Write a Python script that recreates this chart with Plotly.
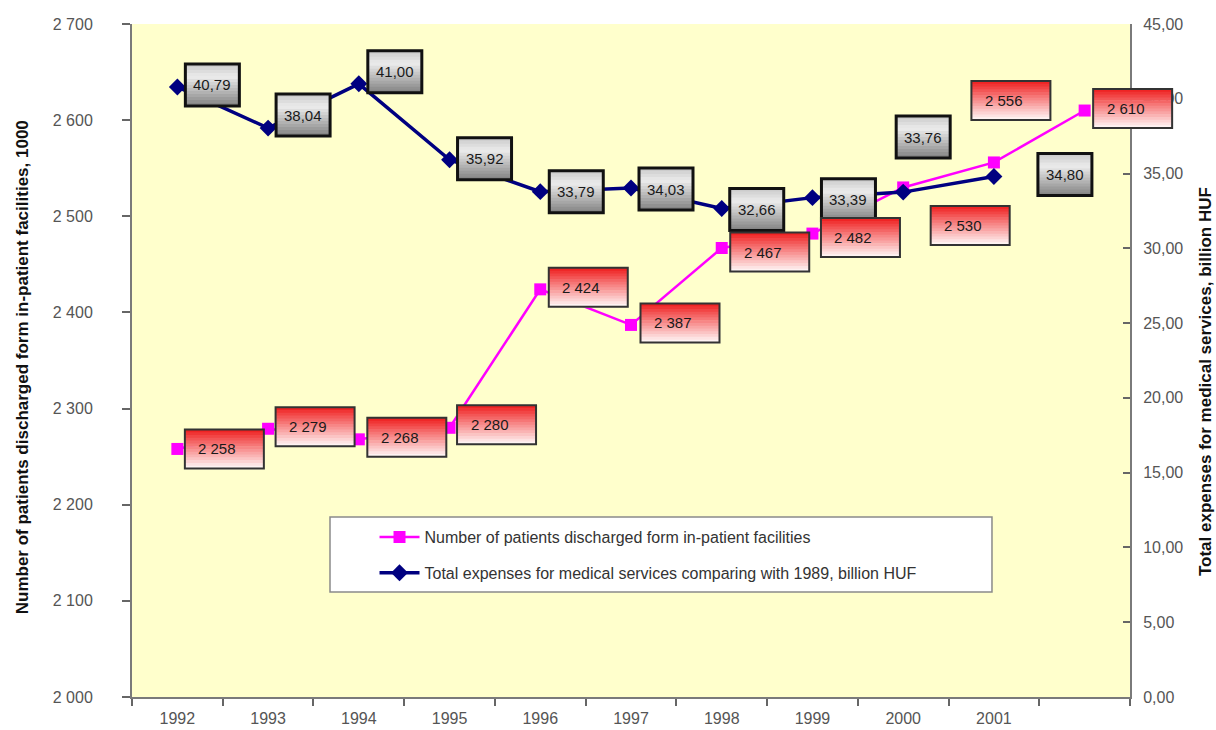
import plotly.graph_objects as go

# ---- data -------------------------------------------------------------
years = [1992, 1993, 1994, 1995, 1996, 1997, 1998, 1999, 2000, 2001, 2002]
year_ticks = [1992, 1993, 1994, 1995, 1996, 1997, 1998, 1999, 2000, 2001]
year_tick_text = ["1992", "1993", "1994", "1995", "1996", "1997", "1998",
                  "1999", "2000", "2001"]

# patients discharged from in-patient facilities, thousands
patients = [2258, 2279, 2268, 2280, 2424, 2387, 2467, 2482, 2530, 2556, 2610]
# total expenses for medical services compared with 1989, billion HUF
expenses = [40.79, 38.04, 41.00, 35.92, 33.79, 34.03, 32.66, 33.39, 33.76, 34.80]

left_ticks = [2000, 2100, 2200, 2300, 2400, 2500, 2600, 2700]
left_tick_text = ["2 000", "2 100", "2 200", "2 300", "2 400", "2 500",
                  "2 600", "2 700"]
right_ticks = [0, 5, 10, 15, 20, 25, 30, 35, 40, 45]
right_tick_text = ["0,00", "5,00", "10,00", "15,00", "20,00", "25,00",
                   "30,00", "35,00", "40,00", "45,00"]

name_patients = "Number of patients discharged form in-patient facilities"
name_expenses = "Total expenses for medical services comparing with 1989, billion HUF"

X_RANGE = [1991.5, 2002.5]

# ---- label box placement (screen px from the point: right, down) -------
patient_box_offsets = [(47, 0), (47, -2), (48, -2), (47, -3), (48, -2), (49, -2),
                       (48, 4), (48, 4), (67, 38), (17, -62), (48, -2)]
expense_box_offsets = [(35, -2), (35, -13), (36, -12), (35, -1), (36, 0), (35, 1),
                       (35, 1), (36, 2), (20, -55), (71, -2)]

FONT = "Liberation Sans, Arial, sans-serif"
PINK = "#FF00FF"
NAVY = "#000080"


def fmt_thousands(v):
    return f"{v:,}".replace(",", " ")


def fmt_decimal(v):
    return f"{v:.2f}".replace(".", ",")


def x_domain(x):
    # position along the x axis as a fraction of the plot width, so label
    # boxes near the right edge are not clipped by the plot area
    return (x - X_RANGE[0]) / (X_RANGE[1] - X_RANGE[0])


def lerp_color(stops, t):
    for (t0, c0), (t1, c1) in zip(stops[:-1], stops[1:]):
        if t0 <= t <= t1:
            f = 0 if t1 == t0 else (t - t0) / (t1 - t0)
            c = [round(a + (b - a) * f) for a, b in zip(c0, c1)]
            return f"rgb({c[0]},{c[1]},{c[2]})"
    c = stops[-1][1]
    return f"rgb({c[0]},{c[1]},{c[2]})"


def gradient_box(shapes, x, y, yref, dx, dy, w, h, stops, border, bw, n=14):
    top = -dy + h / 2.0
    step = h / n
    common = dict(type="rect", xref="x domain", yref=yref, layer="above",
                  xsizemode="pixel", ysizemode="pixel",
                  xanchor=x_domain(x), yanchor=y,
                  x0=dx - w / 2.0, x1=dx + w / 2.0)
    for i in range(n):
        t = (i + 0.5) / n
        shapes.append(dict(common, y0=top - (i + 1) * step - 0.7, y1=top - i * step,
                           fillcolor=lerp_color(stops, t), line=dict(width=0)))
    shapes.append(dict(common, y0=-dy - h / 2.0, y1=top,
                       fillcolor="rgba(0,0,0,0)", line=dict(color=border, width=bw)))


red_stops = [(0.0, (238, 28, 28)), (0.4, (246, 120, 120)), (1.0, (255, 250, 250))]
gray_stops = [(0.0, (200, 200, 200)), (0.3, (236, 236, 236)), (1.0, (128, 128, 128))]

fig = go.Figure()
fig.add_trace(go.Scatter(
    x=years, y=patients, name=name_patients, yaxis="y", legendgroup="a",
    mode="lines+markers", line=dict(color=PINK, width=2.5),
    marker=dict(symbol="square", size=12, color=PINK)))
fig.add_trace(go.Scatter(
    x=years[:len(expenses)], y=expenses, name=name_expenses, yaxis="y2",
    legendgroup="b", mode="lines+markers", line=dict(color=NAVY, width=3.5),
    marker=dict(symbol="diamond", size=13, color=NAVY)))

shapes = []
annotations = []

# legend frame
shapes.append(dict(type="rect", xref="paper", yref="paper", layer="above",
                   x0=0.1984, x1=0.8617, y0=0.156, y1=0.2675,
                   fillcolor="white", line=dict(color="#8a8a8a", width=1.5)))

for x, v, (dx, dy) in zip(years, expenses, expense_box_offsets):
    gradient_box(shapes, x, v, "y2", dx, dy, 54, 42, gray_stops, "#111", 3)
    annotations.append(dict(x=x, y=v, xref="x", yref="y2", xshift=dx, yshift=-dy,
                            text=fmt_decimal(v), showarrow=False,
                            font=dict(family=FONT, size=15, color="#1a1a1a")))

for x, v, (dx, dy) in zip(years, patients, patient_box_offsets):
    gradient_box(shapes, x, v, "y", dx, dy, 79, 39, red_stops, "#333", 2)
    annotations.append(dict(x=x, y=v, xref="x", yref="y", xshift=dx - 7, yshift=-dy,
                            text=fmt_thousands(v), showarrow=False,
                            font=dict(family=FONT, size=15, color="#1a1a1a")))

# axis titles
annotations.append(dict(xref="paper", yref="paper", x=-0.1102, y=0.49,
                        xanchor="center", yanchor="middle",
                        text="<b>Number of patients discharged form in-patient facilities, 1000</b>",
                        textangle=-90, showarrow=False,
                        font=dict(family=FONT, size=17, color="#111")))
annotations.append(dict(xref="paper", yref="paper", x=1.0752, y=0.468,
                        xanchor="center", yanchor="middle",
                        text="<b>Total expenses for medical services, billion HUF</b>",
                        textangle=-90, showarrow=False,
                        font=dict(family=FONT, size=17, color="#111")))

axis_line = dict(showline=True, linecolor="#7a7a7a", linewidth=2, showgrid=False,
                 zeroline=False, automargin=False)

fig.update_layout(
    width=1216, height=730,
    margin=dict(l=132, r=86, t=24, b=33),
    paper_bgcolor="white", plot_bgcolor="#FFFFCC",
    font=dict(family=FONT, size=16, color="#555"),
    xaxis=dict(range=X_RANGE, tickmode="array", tickvals=year_ticks,
               ticktext=year_tick_text, ticks="", ticklabelstandoff=6,
               minor=dict(tick0=1991.5, dtick=1, ticks="outside", ticklen=7,
                          tickwidth=1.5, tickcolor="#666"),
               **axis_line),
    yaxis=dict(range=[2000, 2700], tickmode="array", tickvals=left_ticks,
               ticktext=left_tick_text, ticks="outside", ticklen=8, tickwidth=1.5,
               tickcolor="#666", ticklabelstandoff=26, **axis_line),
    yaxis2=dict(range=[0, 45], overlaying="y", side="right", tickmode="array",
                tickvals=right_ticks, ticktext=right_tick_text, ticks="inside",
                ticklen=7, tickwidth=1.5, tickcolor="#666", ticklabelstandoff=8,
                **axis_line),
    showlegend=True,
    legend=dict(x=0.243, y=0.263, xanchor="left", yanchor="top",
                bgcolor="rgba(0,0,0,0)", borderwidth=0, itemwidth=40,
                tracegroupgap=12, font=dict(family=FONT, size=16, color="#333")),
    shapes=shapes, annotations=annotations,
)

fig.write_html("out.html")
